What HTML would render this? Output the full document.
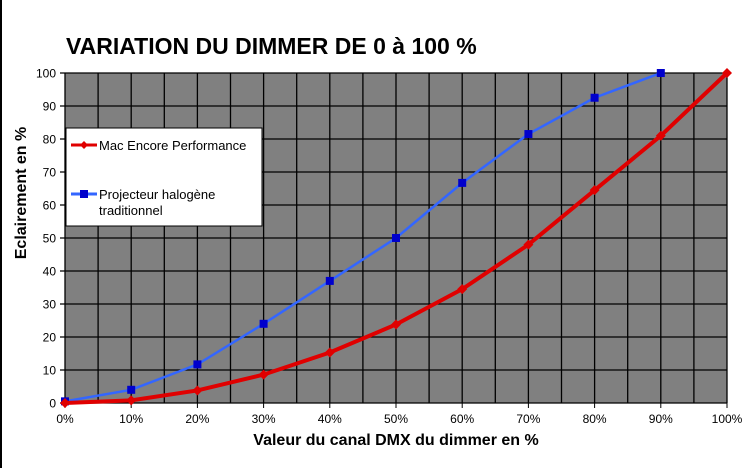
<!DOCTYPE html>
<html><head><meta charset="utf-8"><style>
html,body{margin:0;padding:0;background:#fff;}
body{width:744px;height:468px;overflow:hidden;font-family:"Liberation Sans",Arial,sans-serif;}
</style></head><body>
<svg id="chart" width="744" height="468" xmlns="http://www.w3.org/2000/svg" font-family="Liberation Sans, Arial, sans-serif">
<line x1="1" y1="0" x2="1" y2="468" stroke="#000" stroke-width="2"/>
<text x="66" y="54" font-size="23" font-weight="bold">VARIATION DU DIMMER DE 0 à 100 %</text>
<rect x="65" y="73" width="662" height="330" fill="#808080"/>
<g id="grid"></g>
<g id="yticks"></g>
<g id="xticks"></g>
<text transform="translate(26,193) rotate(-90)" text-anchor="middle" font-size="16" font-weight="bold">Eclairement en %</text>
<text x="396" y="445" text-anchor="middle" font-size="16" font-weight="bold">Valeur du canal DMX du dimmer en %</text>
<g id="series"></g>
<g>
<rect x="66" y="128" width="196" height="98" fill="#fff" stroke="#000" stroke-width="1"/>
<g>
<line x1="71" y1="145" x2="97" y2="145" stroke="#e00000" stroke-width="3"/>
<polygon points="84,141 88,145 84,149 80,145" fill="#e00000"/>
<text x="99" y="150" font-size="13">Mac Encore Performance</text></g>
<g>
<line x1="71" y1="194" x2="97" y2="194" stroke="#3366ff" stroke-width="3"/>
<rect x="80" y="190" width="8" height="8" fill="#0000cc"/>
<text x="99" y="199" font-size="13">Projecteur halogène</text>
<text x="99" y="215" font-size="13">traditionnel</text></g>
</g>
</svg>
<script>
const xCats = [0,10,20,30,40,50,60,70,80,90,100];
const macValues = [0,0.8,3.8,8.6,15.3,23.8,34.5,48,64.5,81,100];
const haloCats = [0,10,20,30,40,50,60,70,80,90];
const haloValues = [0.5,4,11.7,24,37,50,66.7,81.5,92.5,100];
const yTicks = [0,10,20,30,40,50,60,70,80,90,100];
const xTickLabels = ["0%","10%","20%","30%","40%","50%","60%","70%","80%","90%","100%"];
const NS="http://www.w3.org/2000/svg";
const X0=65,X1=727,Y0=403,Y1=73;
const xs=v=>X0+(v/100)*(X1-X0);
const ys=v=>Y0-(v/100)*(Y0-Y1);
function mk(tag,attrs,parent){const e=document.createElementNS(NS,tag);for(const k in attrs)e.setAttribute(k,attrs[k]);parent.appendChild(e);return e;}
const grid=document.getElementById('grid');
for(let p=0;p<=100;p+=5){const l=mk('line',{x1:xs(p),x2:xs(p),y1:Y1,y2:Y0,stroke:'#000','stroke-width':1.3},grid);

}
yTicks.forEach(t=>{const l=mk('line',{x1:X0-5,x2:X1,y1:ys(t),y2:ys(t),stroke:'#000','stroke-width':1.3},grid);

});
const yt=document.getElementById('yticks');
yTicks.forEach(t=>{const e=mk('text',{x:X0-9,y:ys(t)+4.5,'text-anchor':'end','font-size':12},yt);e.textContent=t;

});
const xt=document.getElementById('xticks');
xCats.forEach((c,i)=>{mk('line',{x1:xs(c),x2:xs(c),y1:Y0,y2:Y0+5,stroke:'#000'},xt);
const e=mk('text',{x:xs(c),y:Y0+20,'text-anchor':'middle','font-size':12},xt);e.textContent=xTickLabels[i];

});
const s=document.getElementById('series');
const gH=mk('g',{},s);


mk('polyline',{points:haloCats.map((c,i)=>xs(c)+','+ys(haloValues[i])).join(' '),fill:'none',stroke:'#3366ff','stroke-width':2.5},gH);
haloCats.forEach((c,i)=>{const r=mk('rect',{x:xs(c)-4,y:ys(haloValues[i])-4,width:8,height:8,fill:'#0000cc'},gH);

});
const gM=mk('g',{},s);


mk('polyline',{points:xCats.map((c,i)=>xs(c)+','+ys(macValues[i])).join(' '),fill:'none',stroke:'#e00000','stroke-width':4},gM);
xCats.forEach((c,i)=>{const x=xs(c),y=ys(macValues[i]);const p=mk('polygon',{points:`${x},${y-5} ${x+5},${y} ${x},${y+5} ${x-5},${y}`,fill:'#e00000'},gM);

});
</script>
</body></html>
